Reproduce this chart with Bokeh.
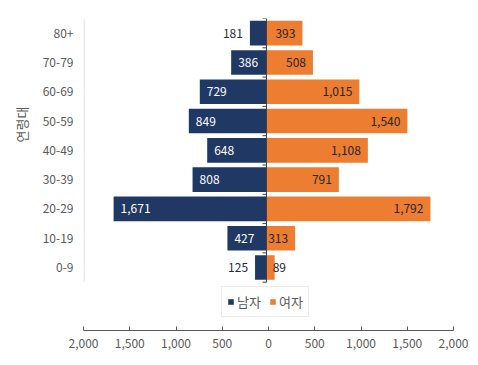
import math
from bokeh.plotting import figure
from bokeh.models import (ColumnDataSource, Range1d, LinearAxis, FixedTicker,
                          Title, Legend)
from bokeh.core.properties import value
from bokeh.embed import file_html
from bokeh.resources import INLINE

# ---- data ----
age_groups = ["0-9", "10-19", "20-29", "30-39", "40-49", "50-59", "60-69", "70-79", "80+"]
male = [125, 427, 1671, 808, 648, 849, 729, 386, 181]
female = [89, 313, 1792, 791, 1108, 1540, 1015, 508, 393]
x_ticks = [-2000, -1500, -1000, -500, 0, 500, 1000, 1500, 2000]
series_names = ["남자", "여자"]
axis_title = "연령대"

NAVY = "#203864"
ORANGE = "#ED7D31"
FONT = "Noto Sans CJK KR"
GRAY_TXT = "#595959"

X0, X1 = -2000, 2044
Y0, Y1 = -2.15, 8.5
FRAME_W = 370

p = figure(width=470, height=358, output_backend="svg", toolbar_location=None,
           x_range=Range1d(X0, X1), y_range=Range1d(Y0, Y1),
           x_axis_location=None, min_border_left=83, min_border_right=17,
           min_border_top=18, min_border_bottom=28)
p.outline_line_color = None
p.grid.visible = False
p.background_fill_color = "white"
px = (X1 - X0) / FRAME_W  # data units per pixel

idx = list(range(len(age_groups)))
src = ColumnDataSource(dict(
    y=idx, male_left=[-m for m in male], zero=[0] * len(idx), female=female,
))

r_m = p.hbar(y="y", left="male_left", right="zero", height=0.84, source=src,
             fill_color=NAVY, line_color=None)
r_f = p.hbar(y="y", left="zero", right="female", height=0.84, source=src,
             fill_color=ORANGE, line_color=None)

# ---- data labels ----
THRESH = 250
fmt = lambda v: f"{v:,}"
m_in = [i for i in idx if male[i] >= THRESH]
m_out = [i for i in idx if male[i] < THRESH]
f_in = [i for i in idx if female[i] >= THRESH]
f_out = [i for i in idx if female[i] < THRESH]

common = dict(text_font=value(FONT), text_font_size="12px", text_baseline="middle")
p.text(x=[-male[i] for i in m_in], y=m_in, text=[fmt(male[i]) for i in m_in],
       text_align="left", x_offset=7, text_color="white", **common)
p.text(x=[-male[i] for i in m_out], y=m_out, text=[fmt(male[i]) for i in m_out],
       text_align="right", x_offset=-7, text_color="#1F2A44", **common)
p.text(x=[female[i] for i in f_in], y=f_in, text=[fmt(female[i]) for i in f_in],
       text_align="right", x_offset=-7, text_color="#262626", **common)
p.text(x=[female[i] for i in f_out], y=f_out, text=[fmt(female[i]) for i in f_out],
       text_align="left", x_offset=-2, text_color="#262626", **common)

# ---- center axis (category axis at zero) ----
lo, hi = -0.5, len(idx) - 0.5
p.segment(x0=[0], y0=[lo], x1=[0], y1=[hi], line_color="#404040", line_width=1)
bounds = [b - 0.5 for b in range(len(idx) + 1)]
p.segment(x0=[-4 * px] * len(bounds), y0=bounds, x1=[0] * len(bounds), y1=bounds,
          line_color="#404040", line_width=1)
# left light gray line
p.segment(x0=[X0 + 0.5 * px], y0=[lo], x1=[X0 + 0.5 * px], y1=[hi],
          line_color="#D9D9D9", line_width=1)

# ---- y axis (category labels) ----
yax = p.yaxis[0]
yax.ticker = FixedTicker(ticks=idx)
yax.major_label_overrides = {i: g for i, g in zip(idx, age_groups)}
yax.axis_line_color = None
yax.major_tick_line_color = None
yax.minor_tick_line_color = None
yax.major_tick_out = 0
yax.major_label_standoff = 10
yax.major_label_text_font = FONT
yax.major_label_text_font_size = "12px"
yax.major_label_text_color = GRAY_TXT

# axis title (as a left-side title, shifted upward)
p.add_layout(Title(text=axis_title, align="left", offset=188, standoff=17,
                   text_font=FONT, text_font_size="13px", text_font_style="normal",
                   text_color=GRAY_TXT), "left")

# ---- bottom value axis ----
p.extra_x_ranges = {"ax": Range1d(-2000, 2000)}
xax = LinearAxis(x_range_name="ax")
xax.ticker = FixedTicker(ticks=x_ticks)
xax.major_label_overrides = {t: f"{abs(t):,}" for t in x_ticks}
xax.axis_line_color = GRAY_TXT
xax.major_tick_line_color = GRAY_TXT
xax.minor_tick_line_color = None
xax.major_tick_in = 4
xax.major_tick_out = 0
xax.major_label_standoff = 8
xax.major_label_text_font = FONT
xax.major_label_text_font_size = "12px"
xax.major_label_text_color = GRAY_TXT
p.add_layout(xax, "below")

# ---- legend ----
legend = Legend(items=[(series_names[0], [r_m]), (series_names[1], [r_f])],
                orientation="horizontal", location=(138, 13))
legend.glyph_width = 7
legend.glyph_height = 7
legend.label_standoff = 3
legend.spacing = 8
legend.padding = 5
legend.margin = 0
legend.label_text_font = FONT
legend.label_text_font_size = "13px"
legend.label_text_color = GRAY_TXT
legend.label_height = 16
legend.border_line_color = "#D9D9D9"
legend.background_fill_alpha = 1
p.add_layout(legend, "center")

open("out.html", "w").write(file_html(p, INLINE))
